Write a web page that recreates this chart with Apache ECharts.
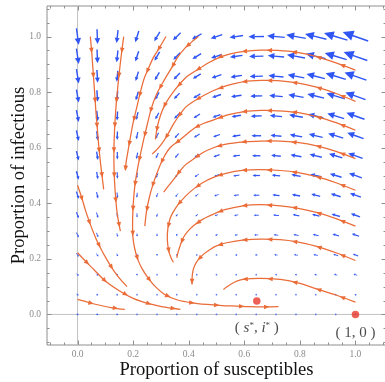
<!DOCTYPE html>
<html><head><meta charset="utf-8">
<script src="https://cdn.jsdelivr.net/npm/echarts@6/dist/echarts.min.js"></script>
<style>html,body{margin:0;padding:0;background:#fff}#c{width:385px;height:382px}</style>
</head><body><div id="c"></div>
<script>
// ---------- data ----------
const axisRange = [-0.11, 1.11];
const majorTicks = [0, 0.2, 0.4, 0.6, 0.8, 1.0];
const minorTicks = [-0.1, -0.05, 0.05, 0.1, 0.15, 0.25, 0.3, 0.35, 0.45, 0.5, 0.55, 0.65, 0.7, 0.75, 0.85, 0.9, 0.95, 1.05, 1.1];

// vector field sample points (s columns, i rows)
const fieldS = [0, 0.071, 0.143, 0.214, 0.286, 0.357, 0.429, 0.5, 0.571, 0.643, 0.714, 0.786, 0.857, 0.929, 1];
const fieldI = [0, 0.071, 0.143, 0.214, 0.286, 0.357, 0.429, 0.5, 0.571, 0.643, 0.714, 0.786, 0.857, 0.929, 1];
// ds/dt per row (row = fieldI index)
const fieldDS = [
  [0.09,0.09,0.08,0.07,0.07,0.06,0.05,0.05,0.04,0.03,0.03,0.02,0.01,0.01,0],
  [0.09,0.08,0.07,0.06,0.05,0.03,0.02,0.01,0,-0.01,-0.02,-0.04,-0.05,-0.06,-0.07],
  [0.09,0.08,0.06,0.04,0.03,0.01,-0.01,-0.02,-0.04,-0.06,-0.08,-0.09,-0.11,-0.13,-0.14],
  [0.09,0.07,0.05,0.03,0.01,-0.02,-0.04,-0.06,-0.08,-0.10,-0.13,-0.15,-0.17,-0.19,-0.21],
  [0.09,0.07,0.04,0.01,-0.02,-0.04,-0.07,-0.10,-0.12,-0.15,-0.18,-0.20,-0.23,-0.26,-0.29],
  [0.09,0.06,0.03,0,-0.04,-0.07,-0.10,-0.13,-0.16,-0.20,-0.23,-0.26,-0.29,-0.33,-0.36],
  [0.09,0.06,0.02,-0.02,-0.06,-0.09,-0.13,-0.17,-0.21,-0.24,-0.28,-0.32,-0.35,-0.39,-0.43],
  [0.09,0.05,0.01,-0.03,-0.08,-0.12,-0.16,-0.20,-0.25,-0.29,-0.33,-0.37,-0.42,-0.46,-0.50],
  [0.09,0.05,0,-0.05,-0.10,-0.14,-0.19,-0.24,-0.29,-0.33,-0.38,-0.43,-0.48,-0.52,-0.57],
  [0.09,0.04,-0.01,-0.06,-0.12,-0.17,-0.22,-0.27,-0.33,-0.38,-0.43,-0.49,-0.54,-0.59,-0.64],
  [0.09,0.04,-0.02,-0.08,-0.14,-0.20,-0.25,-0.31,-0.37,-0.43,-0.48,-0.54,-0.60,-0.66,-0.71],
  [0.09,0.03,-0.03,-0.10,-0.16,-0.22,-0.28,-0.35,-0.41,-0.47,-0.53,-0.60,-0.66,-0.72,-0.79],
  [0.09,0.03,-0.04,-0.11,-0.18,-0.25,-0.31,-0.38,-0.45,-0.52,-0.59,-0.65,-0.72,-0.79,-0.86],
  [0.09,0.02,-0.05,-0.13,-0.20,-0.27,-0.34,-0.42,-0.49,-0.56,-0.64,-0.71,-0.78,-0.86,-0.93],
  [0.09,0.02,-0.06,-0.14,-0.22,-0.30,-0.38,-0.45,-0.53,-0.61,-0.69,-0.77,-0.84,-0.92,-1.00]
];
// di/dt per row
const fieldDI = [
  [0,0,0,0,0,0,0,0,0,0,0,0,0,0,0],
  [-0.05,-0.04,-0.04,-0.03,-0.03,-0.02,-0.02,-0.01,-0.01,0,0,0.01,0.01,0.02,0.03],
  [-0.09,-0.08,-0.07,-0.06,-0.05,-0.04,-0.03,-0.02,-0.01,0,0.01,0.02,0.03,0.04,0.05],
  [-0.14,-0.12,-0.11,-0.09,-0.08,-0.06,-0.05,-0.03,-0.02,0,0.01,0.03,0.04,0.06,0.08],
  [-0.19,-0.17,-0.14,-0.12,-0.10,-0.08,-0.06,-0.04,-0.02,0,0.02,0.04,0.06,0.08,0.10],
  [-0.23,-0.21,-0.18,-0.16,-0.13,-0.10,-0.08,-0.05,-0.03,0,0.02,0.05,0.07,0.10,0.13],
  [-0.28,-0.25,-0.22,-0.19,-0.16,-0.13,-0.09,-0.06,-0.03,0,0.03,0.06,0.09,0.12,0.15],
  [-0.33,-0.29,-0.25,-0.22,-0.18,-0.15,-0.11,-0.08,-0.04,0,0.03,0.07,0.10,0.14,0.18],
  [-0.37,-0.33,-0.29,-0.25,-0.21,-0.17,-0.13,-0.09,-0.04,0,0.04,0.08,0.12,0.16,0.20],
  [-0.42,-0.37,-0.33,-0.28,-0.23,-0.19,-0.14,-0.10,-0.05,0,0.04,0.09,0.13,0.18,0.23],
  [-0.46,-0.41,-0.36,-0.31,-0.26,-0.21,-0.16,-0.11,-0.06,-0.01,0.05,0.10,0.15,0.20,0.25],
  [-0.51,-0.45,-0.40,-0.34,-0.29,-0.23,-0.17,-0.12,-0.06,-0.01,0.05,0.11,0.16,0.22,0.28],
  [-0.56,-0.50,-0.43,-0.37,-0.31,-0.25,-0.19,-0.13,-0.07,-0.01,0.06,0.12,0.18,0.24,0.30],
  [-0.60,-0.54,-0.47,-0.40,-0.34,-0.27,-0.21,-0.14,-0.07,-0.01,0.06,0.13,0.19,0.26,0.33],
  [-0.65,-0.58,-0.51,-0.44,-0.36,-0.29,-0.22,-0.15,-0.08,-0.01,0.06,0.14,0.21,0.28,0.35]
];

// stream lines, points [s, i] in flow order
const streamL1 = [[0,0.054],[0.04,0.043],[0.08,0.033],[0.125,0.024],[0.17,0.018]];
const streamL2 = [[0,0.222],[0.03,0.19],[0.06,0.16],[0.1,0.12],[0.15,0.085],[0.2,0.058],[0.26,0.038],[0.32,0.025],[0.37,0.018]];
const streamL3 = [[0,0.465],[0.015,0.42],[0.03,0.37],[0.046,0.324],[0.064,0.278],[0.082,0.24],[0.105,0.198],[0.13,0.158],[0.155,0.125],[0.178,0.1]];
const streamA = [[0.046,1.0],[0.052,0.93],[0.057,0.86],[0.062,0.79],[0.066,0.73],[0.071,0.67],[0.076,0.61],[0.082,0.55],[0.088,0.5],[0.094,0.45]];
const streamB = [[0.166,1.0],[0.157,0.93],[0.149,0.86],[0.142,0.79],[0.137,0.73],[0.133,0.66],[0.131,0.6],[0.131,0.54],[0.133,0.48],[0.137,0.42],[0.143,0.36],[0.154,0.30]];
const streamC = [[0.318,1.0],[0.295,0.96],[0.273,0.925],[0.255,0.885],[0.24,0.85],[0.226,0.8],[0.213,0.745],[0.2,0.69],[0.19,0.637],[0.181,0.585],[0.175,0.55],[0.172,0.52]];
const streamD = [[0.435,1.0],[0.41,0.98],[0.388,0.96],[0.36,0.925],[0.34,0.89],[0.31,0.84],[0.283,0.79],[0.265,0.74],[0.25,0.68],[0.238,0.63],[0.226,0.575],[0.215,0.52],[0.207,0.47],[0.202,0.42],[0.199,0.37],[0.198,0.324],[0.199,0.28],[0.205,0.24],[0.216,0.2],[0.232,0.165],[0.255,0.13],[0.28,0.1],[0.316,0.07],[0.36,0.052],[0.41,0.042],[0.465,0.036],[0.52,0.032],[0.573,0.03],[0.62,0.028],[0.67,0.027],[0.723,0.028]];
const streamR1 = [[1.0,0.879],[0.93,0.905],[0.86,0.928],[0.79,0.943],[0.72,0.95],[0.66,0.951],[0.6,0.947],[0.55,0.938],[0.513,0.926],[0.47,0.905],[0.43,0.88],[0.39,0.853],[0.35,0.808],[0.315,0.756],[0.298,0.715],[0.287,0.675],[0.28,0.63]];
const streamR2 = [[1.0,0.767],[0.93,0.795],[0.86,0.818],[0.79,0.833],[0.72,0.841],[0.66,0.842],[0.6,0.838],[0.54,0.824],[0.49,0.806],[0.44,0.78],[0.41,0.762],[0.388,0.745],[0.365,0.715],[0.345,0.685],[0.323,0.645],[0.3,0.61],[0.282,0.59],[0.268,0.577]];
const streamR3 = [[1.0,0.663],[0.93,0.69],[0.86,0.712],[0.79,0.727],[0.72,0.733],[0.66,0.734],[0.6,0.73],[0.54,0.718],[0.49,0.7],[0.455,0.688],[0.424,0.673],[0.395,0.65],[0.365,0.625],[0.333,0.6],[0.31,0.565],[0.29,0.52],[0.272,0.47],[0.258,0.42],[0.248,0.37],[0.242,0.318]];
const streamR4 = [[1.0,0.561],[0.93,0.587],[0.86,0.607],[0.79,0.619],[0.729,0.624],[0.66,0.624],[0.6,0.621],[0.53,0.612],[0.489,0.6],[0.45,0.582],[0.417,0.559],[0.39,0.54],[0.369,0.517],[0.345,0.485],[0.325,0.46],[0.31,0.44]];
const streamR5 = [[1.0,0.447],[0.93,0.474],[0.86,0.496],[0.79,0.511],[0.729,0.518],[0.66,0.521],[0.6,0.519],[0.53,0.507],[0.489,0.493],[0.45,0.474],[0.417,0.451],[0.388,0.425],[0.363,0.397],[0.345,0.37],[0.333,0.345],[0.325,0.31],[0.323,0.27],[0.328,0.23],[0.336,0.205],[0.345,0.188]];
const streamR6 = [[1.0,0.318],[0.93,0.345],[0.86,0.367],[0.79,0.383],[0.729,0.391],[0.657,0.395],[0.6,0.392],[0.53,0.377],[0.489,0.361],[0.45,0.342],[0.417,0.319],[0.395,0.297],[0.381,0.277],[0.37,0.25],[0.362,0.225],[0.357,0.204]];
const streamR7 = [[1.0,0.194],[0.93,0.222],[0.86,0.245],[0.79,0.261],[0.729,0.269],[0.66,0.271],[0.6,0.268],[0.537,0.258],[0.5,0.247],[0.477,0.234],[0.455,0.218],[0.435,0.198],[0.422,0.177],[0.415,0.156],[0.412,0.13],[0.412,0.108]];
const streamR8 = [[1.0,0.044],[0.93,0.07],[0.86,0.092],[0.8,0.112],[0.73,0.126],[0.657,0.13],[0.6,0.127],[0.573,0.12],[0.55,0.108],[0.535,0.098],[0.525,0.09]];

const equilibriumPoints = [[0.645, 0.048], [1, 0]];
const equilibriumLabels = ['( {it|s}{sup|*}, {it|i}{sup|*} )', '( 1, 0 )'];

// ---------- styling ----------
const BLUE = '#2f55f4', ORANGE = '#ea6c38', RED = '#e8382c';
const FRAME = '#8f8f8f', ZEROLINE = '#c2c2c2';
const SERIF = 'Liberation Serif';
const ARROW_SCALE = 0.0917;  // field units -> data units of drawn arrow
const STREAM_GAP = 25, STREAM_FIRST = 14;

const streamLines = [streamL1, streamL2, streamL3, streamA, streamB, streamC, streamD,
  streamR1, streamR2, streamR3, streamR4, streamR5, streamR6, streamR7, streamR8];

const fieldData = [];
fieldI.forEach((iv, r) => fieldS.forEach((sv, c) => fieldData.push([sv, iv, fieldDS[r][c], fieldDI[r][c]])));

function renderField(params, api) {
  const s = api.value(0), i = api.value(1), ds = api.value(2), di = api.value(3);
  const p = api.coord([s, i]);
  const q = api.coord([s + ds * ARROW_SCALE, i + di * ARROW_SCALE]);
  const dx = q[0] - p[0], dy = q[1] - p[1];
  const L = Math.hypot(dx, dy);
  if (L < 1.8) {
    return {type: 'circle', shape: {cx: p[0], cy: p[1], r: 0.85}, style: {fill: BLUE, opacity: 0.75}};
  }
  const ux = dx / L, uy = dy / L;
  const tail = [p[0] - dx / 2, p[1] - dy / 2], tip = [p[0] + dx / 2, p[1] + dy / 2];
  const hl = Math.max(1.6, 0.4 * L), hw = Math.max(1.1, 0.19 * L);
  const bx = tip[0] - ux * hl, by = tip[1] - uy * hl;
  return {type: 'group', children: [
    {type: 'line', shape: {x1: tail[0], y1: tail[1], x2: bx + ux * 0.5, y2: by + uy * 0.5},
      style: {stroke: BLUE, lineWidth: Math.min(1.4, 0.3 + L / 8)}},
    {type: 'polygon', shape: {points: [tip, [bx - uy * hw, by + ux * hw], [bx + uy * hw, by - ux * hw]]},
      style: {fill: BLUE}}
  ]};
}

function renderStream(params, api) {
  const pts = streamLines[params.dataIndex].map(pt => api.coord(pt));
  const children = [{type: 'polyline', shape: {points: pts, smooth: 0.3},
    style: {stroke: ORANGE, lineWidth: 1.25, fill: null}}];
  let acc = 0, next = STREAM_FIRST;
  for (let k = 1; k < pts.length; k++) {
    const x0 = pts[k - 1][0], y0 = pts[k - 1][1], x1 = pts[k][0], y1 = pts[k][1];
    const seg = Math.hypot(x1 - x0, y1 - y0);
    if (seg === 0) continue;
    const ux = (x1 - x0) / seg, uy = (y1 - y0) / seg;
    while (acc + seg >= next) {
      const t = (next - acc) / seg;
      const cx = x0 + t * (x1 - x0), cy = y0 + t * (y1 - y0);
      const hl = 5.5, hw = 2.3;
      const tip = [cx + ux * hl / 2, cy + uy * hl / 2];
      const bx = cx - ux * hl / 2, by = cy - uy * hl / 2;
      children.push({type: 'polygon', shape: {points: [tip, [bx - uy * hw, by + ux * hw], [bx + uy * hw, by - ux * hw]]},
        style: {fill: ORANGE}});
      next += STREAM_GAP;
    }
    acc += seg;
  }
  return {type: 'group', children};
}

function renderFrame(params, api) {
  const cs = params.coordSys;
  const left = cs.x, right = cs.x + cs.width, top = cs.y, bottom = cs.y + cs.height;
  const ch = [];
  const zx = api.coord([0, 0]);
  ch.push({type: 'line', shape: {x1: zx[0], y1: top, x2: zx[0], y2: bottom}, style: {stroke: ZEROLINE, lineWidth: 1}});
  ch.push({type: 'line', shape: {x1: left, y1: zx[1], x2: right, y2: zx[1]}, style: {stroke: ZEROLINE, lineWidth: 1}});
  const addTicks = (vals, len) => vals.forEach(v => {
    const p = api.coord([v, v]);
    const x = Math.round(p[0]) + 0.5, y = Math.round(p[1]) + 0.5;
    ch.push({type: 'line', shape: {x1: x, y1: bottom, x2: x, y2: bottom - len}, style: {stroke: FRAME, lineWidth: 1}});
    ch.push({type: 'line', shape: {x1: x, y1: top, x2: x, y2: top + len}, style: {stroke: FRAME, lineWidth: 1}});
    ch.push({type: 'line', shape: {x1: left, y1: y, x2: left + len, y2: y}, style: {stroke: FRAME, lineWidth: 1}});
    ch.push({type: 'line', shape: {x1: right, y1: y, x2: right - len, y2: y}, style: {stroke: FRAME, lineWidth: 1}});
  });
  addTicks(majorTicks, 4.5);
  addTicks(minorTicks, 2.5);
  return {type: 'group', children: ch};
}

const chart = echarts.init(document.getElementById('c'), null, {renderer: 'canvas'});
const tickLabel = {color: '#8a8a8a', fontFamily: SERIF, fontSize: 9.5, formatter: v => Number(v).toFixed(1)};
chart.setOption({
  animation: false,
  backgroundColor: '#fff',
  grid: {left: 47, top: 6, width: 339, height: 339, show: true, borderColor: FRAME, borderWidth: 1,
    containLabel: false, outerBoundsMode: 'none'},
  xAxis: {type: 'value', min: axisRange[0], max: axisRange[1], splitLine: {show: false},
    axisLine: {show: false}, axisTick: {show: false},
    axisLabel: Object.assign({customValues: majorTicks, margin: 4}, tickLabel),
    name: 'Proportion of susceptibles', nameLocation: 'middle', nameGap: 16, nameMoveOverlap: false,
    nameTextStyle: {fontFamily: SERIF, fontSize: 18.6, color: '#111'}},
  yAxis: {type: 'value', min: axisRange[0], max: axisRange[1], splitLine: {show: false},
    axisLine: {show: false}, axisTick: {show: false},
    axisLabel: Object.assign({customValues: majorTicks, margin: 6}, tickLabel),
    name: 'Proportion of infectious', nameLocation: 'middle', nameGap: 18, nameMoveOverlap: false,
    nameTextStyle: {fontFamily: SERIF, fontSize: 18.6, color: '#111'}},
  series: [
    {type: 'custom', name: 'frame', data: [[0, 0]], renderItem: renderFrame, silent: true, clip: false, z: 1},
    {type: 'custom', name: 'field', data: fieldData, renderItem: renderField, silent: true, clip: false, z: 2,
      encode: {x: 0, y: 1}},
    {type: 'custom', name: 'streams', data: streamLines.map((l, k) => [l[0][0], l[0][1]]), renderItem: renderStream,
      silent: true, clip: false, z: 3, encode: {x: 0, y: 1}},
    {type: 'scatter', name: 'equilibria', z: 4, symbolSize: 7.5, itemStyle: {color: RED},
      data: equilibriumPoints.map((p, k) => ({value: p,
        label: {show: true, position: 'bottom', distance: k === 0 ? 16 : 7,
          formatter: equilibriumLabels[k], fontFamily: SERIF, fontSize: 15, color: '#1a1a1a',
          rich: {it: {fontStyle: 'italic', fontFamily: SERIF, fontSize: 15, color: '#1a1a1a'},
                 sup: {fontFamily: SERIF, fontSize: 9, verticalAlign: 'top', color: '#1a1a1a'}}}}))}
  ]
});
</script></body></html>
